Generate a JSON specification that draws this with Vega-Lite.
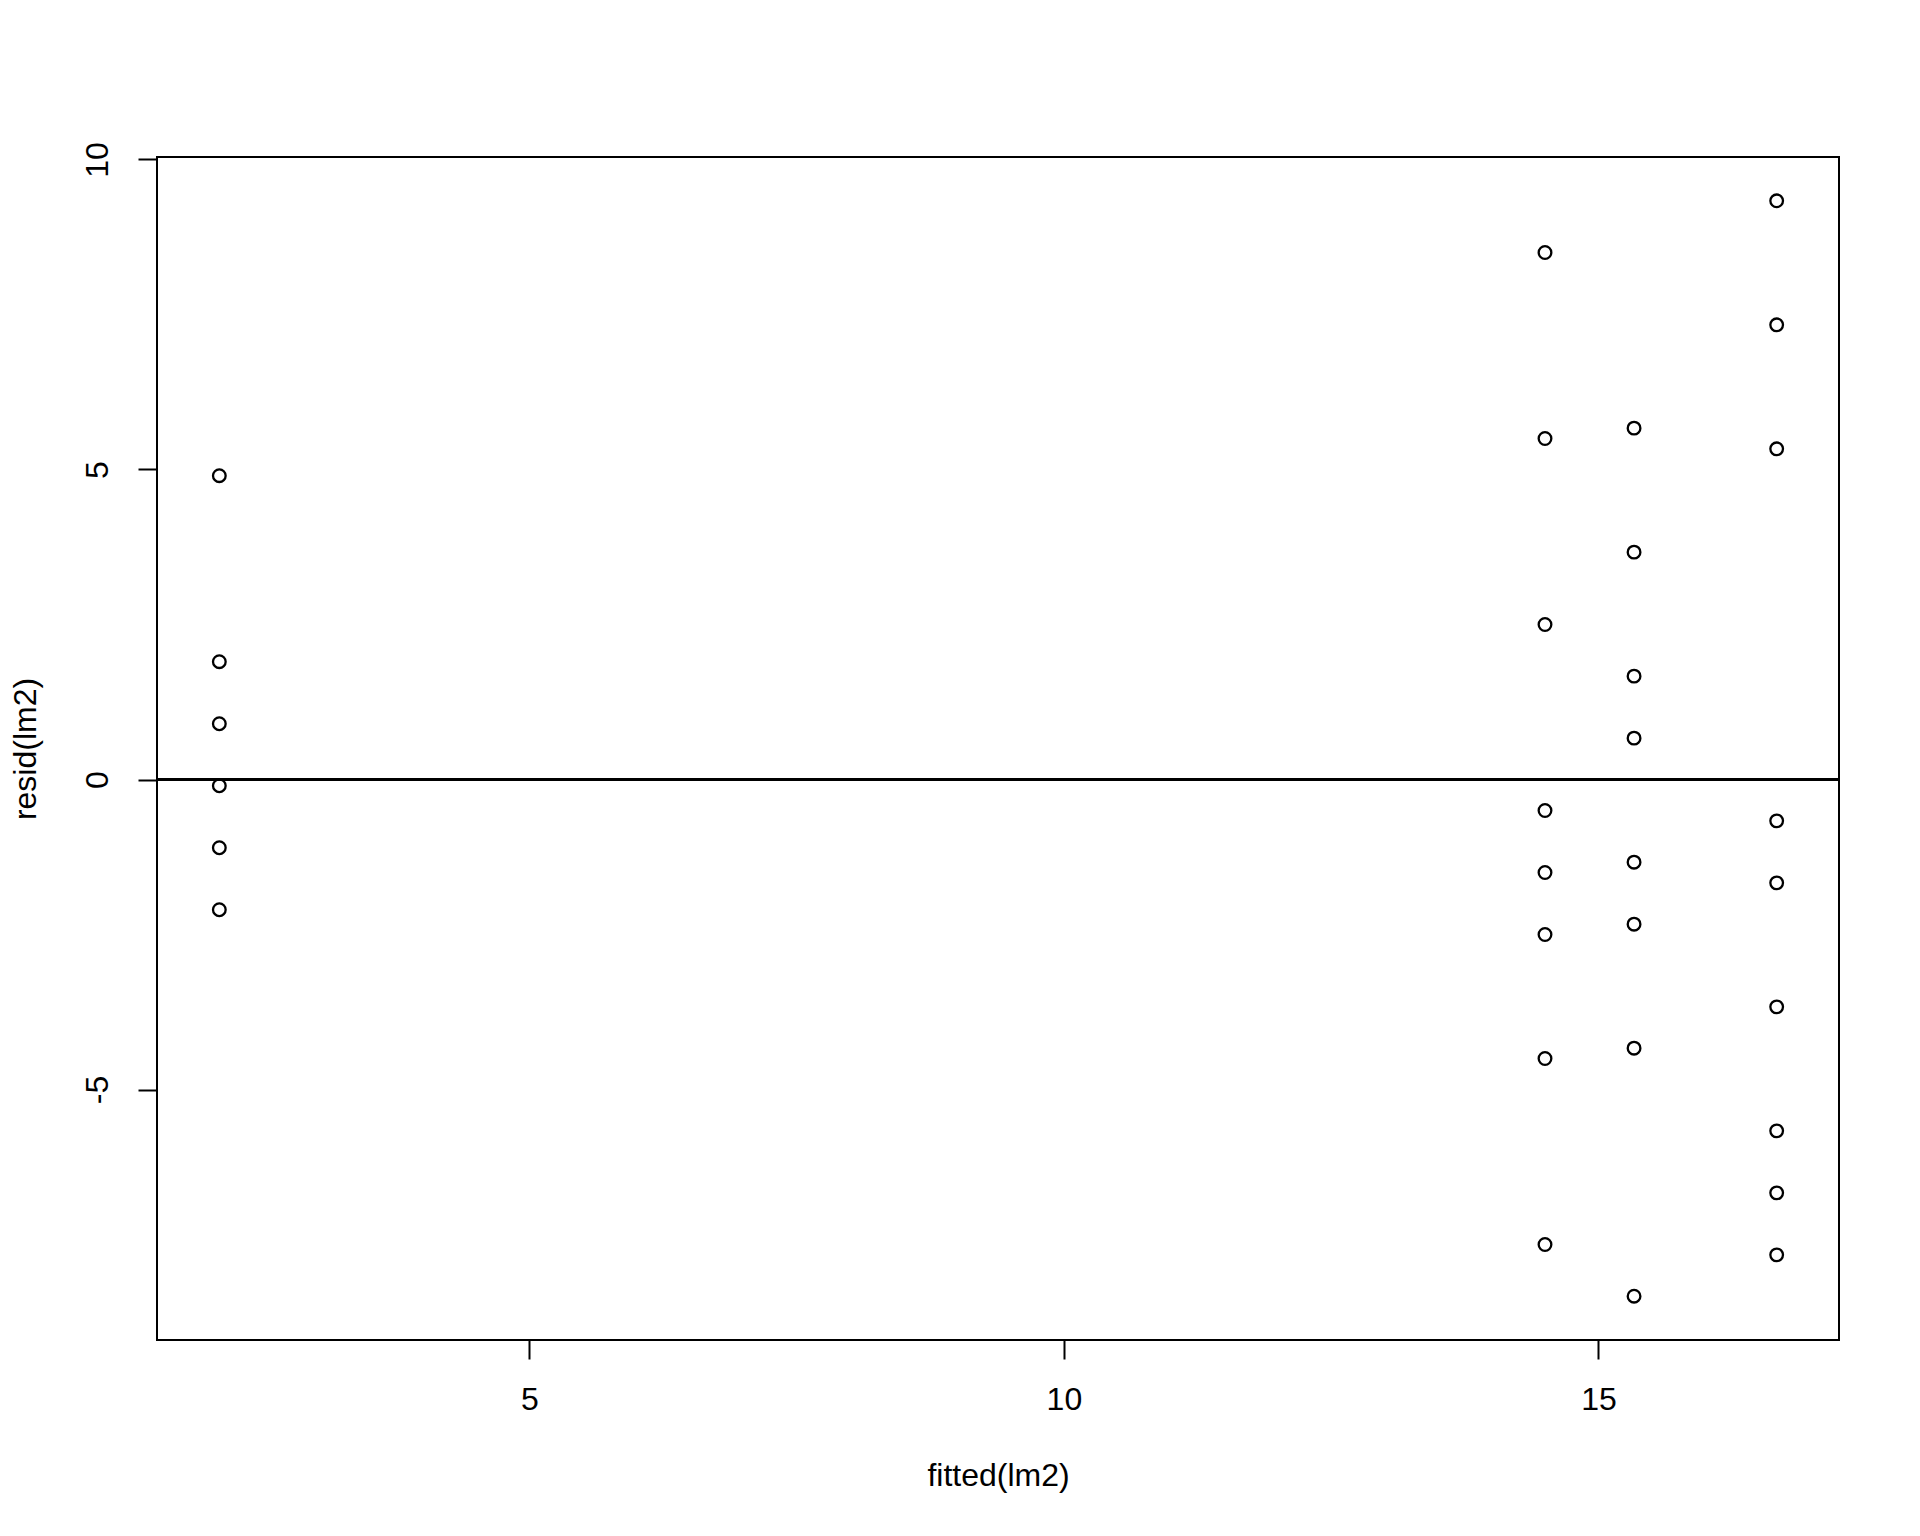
{
  "$schema": "https://vega.github.io/schema/vega-lite/v6.json",
  "autosize": {"type": "none"},
  "padding": {"left": 157, "top": 157, "right": 81, "bottom": 196},
  "width": 1682,
  "height": 1183,
  "background": "white",
  "config": {
    "view": {"stroke": "black", "strokeWidth": 2},
    "font": "Liberation Sans",
    "axis": {
      "grid": false,
      "domain": false,
      "tickColor": "black",
      "tickWidth": 2,
      "tickSize": 19,
      "labelColor": "black",
      "labelFont": "Liberation Sans",
      "labelFontSize": 32,
      "titleFont": "Liberation Sans",
      "titleFontSize": 32,
      "titleFontWeight": "normal",
      "titleColor": "black"
    }
  },
  "data": {
    "values": [
      {"fitted": 2.1, "resid": 4.9},
      {"fitted": 2.1, "resid": 1.9},
      {"fitted": 2.1, "resid": 0.9},
      {"fitted": 2.1, "resid": -0.1},
      {"fitted": 2.1, "resid": -1.1},
      {"fitted": 2.1, "resid": -2.1},
      {"fitted": 14.5, "resid": 8.5},
      {"fitted": 14.5, "resid": 5.5},
      {"fitted": 14.5, "resid": 2.5},
      {"fitted": 14.5, "resid": -0.5},
      {"fitted": 14.5, "resid": -1.5},
      {"fitted": 14.5, "resid": -2.5},
      {"fitted": 14.5, "resid": -4.5},
      {"fitted": 14.5, "resid": -7.5},
      {"fitted": 15.333, "resid": 5.667},
      {"fitted": 15.333, "resid": 3.667},
      {"fitted": 15.333, "resid": 1.667},
      {"fitted": 15.333, "resid": 0.667},
      {"fitted": 15.333, "resid": -1.333},
      {"fitted": 15.333, "resid": -2.333},
      {"fitted": 15.333, "resid": -4.333},
      {"fitted": 15.333, "resid": -8.333},
      {"fitted": 16.667, "resid": 9.333},
      {"fitted": 16.667, "resid": 7.333},
      {"fitted": 16.667, "resid": 5.333},
      {"fitted": 16.667, "resid": -0.667},
      {"fitted": 16.667, "resid": -1.667},
      {"fitted": 16.667, "resid": -3.667},
      {"fitted": 16.667, "resid": -5.667},
      {"fitted": 16.667, "resid": -6.667},
      {"fitted": 16.667, "resid": -7.667}
    ]
  },
  "layer": [
    {
      "mark": {"type": "point", "shape": "circle", "filled": false, "stroke": "black", "strokeWidth": 2.3, "size": 160, "opacity": 1},
      "encoding": {
        "x": {
          "field": "fitted", "type": "quantitative",
          "scale": {"domain": [1.517, 17.25], "nice": false, "zero": false},
          "axis": {"values": [5, 10, 15], "title": "fitted(lm2)", "labelPadding": 25, "titleBaseline": "alphabetic", "titleY": 145, "labelExpr": "'' + datum.value"}
        },
        "y": {
          "field": "resid", "type": "quantitative",
          "scale": {"domain": [-9.04, 10.04], "nice": false, "zero": false},
          "axis": {"values": [-5, 0, 5, 10], "title": "resid(lm2)", "labelAngle": -90, "labelPadding": 24, "titleAngle": 270, "titleBaseline": "alphabetic", "titleX": -122, "labelExpr": "'' + datum.value"}
        }
      }
    },
    {
      "mark": {"type": "rule", "color": "black", "strokeWidth": 2},
      "encoding": {"y": {"datum": 0, "type": "quantitative"}}
    }
  ]
}
